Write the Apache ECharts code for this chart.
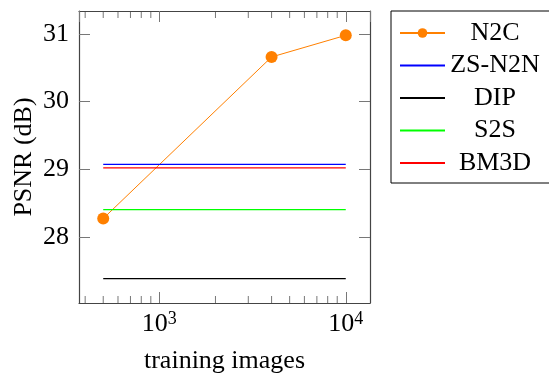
<!DOCTYPE html>
<html>
<head>
<meta charset="utf-8">
<script src="https://cdn.jsdelivr.net/npm/echarts@6/dist/echarts.min.js"></script>
<style>
  html, body { margin: 0; padding: 0; background: #fff; }
  #main { width: 549px; height: 375px; }
</style>
</head>
<body>
<div id="main"></div>
<script>
// data
const trainingImages = [500, 4000, 10000];
const n2c = [28.27, 30.66, 30.98];
const baselineNames = ['ZS-N2N', 'DIP', 'S2S', 'BM3D'];
const baselineValues = [29.07, 27.38, 28.40, 29.02];
const baselineColors = ['#0000ff', '#000000', '#00ff00', '#ff0000'];
const xMinor = [400, 500, 600, 700, 800, 900, 2000, 3000, 4000, 5000, 6000, 7000, 8000, 9000];
const yTicks = [28, 29, 30, 31];

const FONT = 'Liberation Serif';
const xMin = 370.7, xMax = 13490;
const yMin = 27.02, yMax = 31.34;
const frameColor = '#444';
const tickColor = '#777';

// legend box layout
const legLeft = 391, legTop = 11, legPad = [9, 60, 7, 8];
const legIconW = 45, legTextW = 92, legRowH = 26, legGap = 6.5;

const chart = echarts.init(document.getElementById('main'));

// bottom axis carries the labels, top one only mirrors the frame and ticks
function xAxisDef(pos, withLabel) {
  return {
    type: 'log', logBase: 10, position: pos, min: xMin, max: xMax,
    axisLine: { show: true, onZero: false, lineStyle: { color: frameColor, width: 1.2 } },
    axisTick: { show: true, inside: true, length: 11, lineStyle: { color: tickColor, width: 1 } },
    minorTick: { show: false },
    axisLabel: withLabel ? {
      margin: 7, showMinLabel: false, showMaxLabel: false,
      formatter: v => '{b|10}{s|' + Math.round(Math.log10(v)) + '}',
      rich: {
        b: { fontFamily: FONT, fontSize: 26, color: '#000', lineHeight: 28 },
        s: { fontFamily: FONT, fontSize: 18, color: '#000', lineHeight: 22, verticalAlign: 'top' }
      }
    } : { show: false },
    splitLine: { show: false }
  };
}

function yAxisDef(pos, withLabel) {
  return {
    type: 'value', position: pos, min: yMin, max: yMax,
    axisLine: { show: true, onZero: false, lineStyle: { color: frameColor, width: 1.2 } },
    axisTick: { show: true, inside: true, length: 11, customValues: yTicks, lineStyle: { color: tickColor, width: 1 } },
    axisLabel: withLabel ? { customValues: yTicks, margin: 10, fontFamily: FONT, fontSize: 26, color: '#000' } : { show: false },
    splitLine: { show: false }
  };
}

const series = [{
  name: 'N2C', type: 'line', xAxisIndex: 0, yAxisIndex: 0,
  data: trainingImages.map((x, i) => [x, n2c[i]]),
  symbol: 'circle', symbolSize: 12,
  lineStyle: { color: '#ff8000', width: 1 },
  itemStyle: { color: '#ff8000' }
}];
baselineNames.forEach((name, i) => {
  series.push({
    name: name, type: 'line', xAxisIndex: 0, yAxisIndex: 0,
    data: [[trainingImages[0], baselineValues[i]], [trainingImages[trainingImages.length - 1], baselineValues[i]]],
    symbol: 'none',
    lineStyle: { color: baselineColors[i], width: 1.2 },
    itemStyle: { color: baselineColors[i] }
  });
});
const legendNames = ['N2C'].concat(baselineNames);

const option = {
  animation: false,
  backgroundColor: '#fff',
  textStyle: { fontFamily: FONT },
  grid: { left: 79, top: 11, right: 179, bottom: 72, containLabel: false, outerBoundsMode: 'none' },
  xAxis: [xAxisDef('bottom', true), xAxisDef('top', false)],
  yAxis: [yAxisDef('left', true), yAxisDef('right', false)],
  legend: {
    orient: 'vertical', left: legLeft, top: legTop,
    data: [{ name: 'N2C' }].concat(baselineNames.map(n => ({ name: n, itemStyle: { opacity: 0 } }))),
    itemWidth: legIconW, itemHeight: 12, itemGap: legGap,
    padding: legPad,
    borderColor: '#000', borderWidth: 1,
    selectedMode: false,
    // legend text is kept for layout only; the visible labels are drawn below in the serif face
    formatter: '{t|{name}}',
    textStyle: {
      fontFamily: FONT,
      rich: { t: { fontFamily: FONT, fontSize: 26, color: 'rgba(0,0,0,0)', width: legTextW, align: 'center', lineHeight: legRowH } }
    }
  },
  series: series
};

chart.setOption(option);

// minor ticks of the log axis (2..9 x 10^n), placed through the axis scale
const yBottom = chart.convertToPixel({ yAxisIndex: 0 }, yMin);
const yTop = chart.convertToPixel({ yAxisIndex: 0 }, yMax);
const xLeft = chart.convertToPixel({ xAxisIndex: 0 }, xMin);
const xRight = chart.convertToPixel({ xAxisIndex: 0 }, xMax);
const extras = [];
xMinor.forEach(v => {
  const x = chart.convertToPixel({ xAxisIndex: 0 }, v);
  extras.push({ type: 'line', silent: true, shape: { x1: x, y1: yBottom, x2: x, y2: yBottom - 7 }, style: { stroke: tickColor, lineWidth: 1 } });
  extras.push({ type: 'line', silent: true, shape: { x1: x, y1: yTop, x2: x, y2: yTop + 7 }, style: { stroke: tickColor, lineWidth: 1 } });
});

const textStyle = t => ({ text: t, fontFamily: FONT, fontSize: 26, fill: '#000', align: 'center', verticalAlign: 'middle' });
// axis titles
extras.push({ type: 'text', silent: true, x: (xLeft + xRight) / 2, y: yBottom + 58, style: textStyle('training images') });
extras.push({ type: 'text', silent: true, x: xLeft - 55, y: (yTop + yBottom) / 2, rotation: Math.PI / 2, style: textStyle('PSNR (dB)') });
// legend labels, centred in the legend's text column
legendNames.forEach((n, i) => {
  extras.push({
    type: 'text', silent: true, z: 10,
    x: legLeft + legPad[3] + legIconW + 5 + legTextW / 2,
    y: legTop + legPad[0] + legRowH / 2 + i * (legRowH + legGap),
    style: textStyle(n)
  });
});
chart.setOption({ graphic: extras });
</script>
</body>
</html>
